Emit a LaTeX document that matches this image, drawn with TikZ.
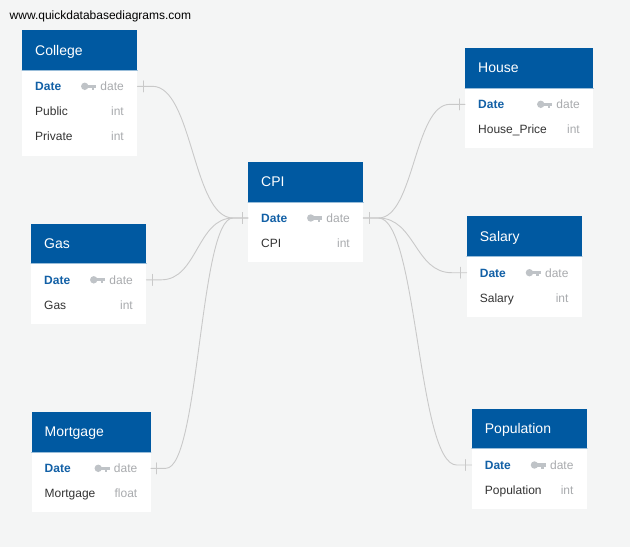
\documentclass[tikz,border=0pt]{standalone}
\usepackage{fontspec}
\setmainfont{Liberation Sans}
\usetikzlibrary{calc,decorations.markings}

\definecolor{erdblue}{HTML}{0059A1}
\definecolor{pkblue}{HTML}{1260A6}
\definecolor{typegray}{HTML}{A9ABAE}
\definecolor{keygray}{HTML}{BFC3C7}
\definecolor{fieldtext}{HTML}{333333}
\definecolor{linegray}{HTML}{C9C9C9}
\definecolor{canvas}{HTML}{F4F5F5}

\tikzset{
  keyicon/.pic={
    \fill[keygray] (-11.5,0) circle (3.7);
    \fill[keygray] (-9,-1.6) rectangle (0,1.6);
    \fill[keygray] (-4.6,1) rectangle (-2.4,3.6);
  }
}

% right edge of one table -> left edge of the other
\newcommand\erdlink[2]{%
  \path (#1) ++(15,0) coordinate (lk-a);
  \path (#2) ++(-15,0) coordinate (lk-b);
  \coordinate (lk-m) at ($(lk-a)!0.5!(lk-b)$);
  \draw[rel] (#1) -- (lk-a) .. controls (lk-m |- lk-a) and (lk-m |- lk-b) .. (lk-b) -- (#2);
}

\begin{document}
\begin{tikzpicture}[x=1pt,y=-1pt,line cap=round,line join=round,
    hdr/.style={rectangle,fill=erdblue,text=white,anchor=north west,minimum height=40pt,
      inner xsep=13pt,inner ysep=0pt,text height=10pt,text depth=0pt,align=left,
      font=\fontsize{14}{16}\selectfont},
    tbody/.style={rectangle,fill=white,anchor=north west,inner sep=0pt},
    hdrline/.style={draw=erdblue!40,line width=0.8pt},
    pkname/.style={anchor=west,inner sep=0pt,text height=8.6pt,text depth=0pt,text=pkblue,
      font=\fontsize{12}{14}\selectfont\bfseries},
    fname/.style={anchor=west,inner sep=0pt,text height=8.6pt,text depth=0pt,text=fieldtext,
      font=\fontsize{12}{14}\selectfont},
    ftype/.style={anchor=east,inner sep=0pt,text height=8.6pt,text depth=0pt,text=typegray,
      font=\fontsize{12}{14}\selectfont},
    rel/.style={draw=linegray,line width=0.9pt,
      postaction={decorate,decoration={markings,
        mark=at position 6pt with {\draw[linegray,line width=0.9pt] (0,-5.5) -- (0,5.5);},
        mark=at position -6pt with {\draw[linegray,line width=0.9pt] (0,-5.5) -- (0,5.5);}}}}]
  \useasboundingbox (0,0) rectangle (630,547);
  \fill[canvas] (0,0) rectangle (630,547);

  \node[anchor=west,inner sep=0pt,text=black,font=\fontsize{12}{14}\selectfont] (site) at (9.5,16) {www.quickdatabasediagrams.com};

  % College
  \node[hdr,text width=89pt] (college) at (22,30) {College};
  \node[tbody,minimum width=115pt,minimum height=85pt] (college-body) at (college.south west) {};
  \draw[hdrline] (college.south west) -- (college.south east);
  \node[pkname] (college-date) at (35,86.3) {Date};
  \node[ftype] (college-date-type) at (124,86.3) {date};
  \pic at ([xshift=-4pt]college-date-type.west) {keyicon};
  \node[fname] (college-public) at (35,111.3) {Public};
  \node[ftype] (college-public-type) at (124,111.3) {int};
  \node[fname] (college-private) at (35,136.3) {Private};
  \node[ftype] (college-private-type) at (124,136.3) {int};

  % CPI
  \node[hdr,text width=89pt] (cpi) at (248,161.5) {CPI};
  \node[tbody,minimum width=115pt,minimum height=60pt] (cpi-body) at (cpi.south west) {};
  \draw[hdrline] (cpi.south west) -- (cpi.south east);
  \node[pkname] (cpi-date) at (261,218) {Date};
  \node[ftype] (cpi-date-type) at (350,218) {date};
  \pic at ([xshift=-4pt]cpi-date-type.west) {keyicon};
  \node[fname] (cpi-cpi) at (261,243) {CPI};
  \node[ftype] (cpi-cpi-type) at (350,243) {int};

  % Gas
  \node[hdr,text width=89pt] (gas) at (31,223.3) {Gas};
  \node[tbody,minimum width=115pt,minimum height=60pt] (gas-body) at (gas.south west) {};
  \draw[hdrline] (gas.south west) -- (gas.south east);
  \node[pkname] (gas-date) at (44,279.8) {Date};
  \node[ftype] (gas-date-type) at (133,279.8) {date};
  \pic at ([xshift=-4pt]gas-date-type.west) {keyicon};
  \node[fname] (gas-gas) at (44,304.8) {Gas};
  \node[ftype] (gas-gas-type) at (133,304.8) {int};

  % Mortgage
  \node[hdr,text width=93pt] (mortgage) at (31.5,411.7) {Mortgage};
  \node[tbody,minimum width=119pt,minimum height=60pt] (mortgage-body) at (mortgage.south west) {};
  \draw[hdrline] (mortgage.south west) -- (mortgage.south east);
  \node[pkname] (mortgage-date) at (44.5,468.3) {Date};
  \node[ftype] (mortgage-date-type) at (137.5,468.3) {date};
  \pic at ([xshift=-4pt]mortgage-date-type.west) {keyicon};
  \node[fname] (mortgage-mortgage) at (44.5,493.3) {Mortgage};
  \node[ftype] (mortgage-mortgage-type) at (137.5,493.3) {float};

  % House
  \node[hdr,text width=102pt] (house) at (465,47.5) {House};
  \node[tbody,minimum width=128pt,minimum height=60pt] (house-body) at (house.south west) {};
  \draw[hdrline] (house.south west) -- (house.south east);
  \node[pkname] (house-date) at (478,104.3) {Date};
  \node[ftype] (house-date-type) at (580,104.3) {date};
  \pic at ([xshift=-4pt]house-date-type.west) {keyicon};
  \node[fname] (house-price) at (478,129.3) {House\_Price};
  \node[ftype] (house-price-type) at (580,129.3) {int};

  % Salary
  \node[hdr,text width=89pt] (salary) at (466.7,216) {Salary};
  \node[tbody,minimum width=115pt,minimum height=60pt] (salary-body) at (salary.south west) {};
  \draw[hdrline] (salary.south west) -- (salary.south east);
  \node[pkname] (salary-date) at (479.7,272.7) {Date};
  \node[ftype] (salary-date-type) at (568.7,272.7) {date};
  \pic at ([xshift=-4pt]salary-date-type.west) {keyicon};
  \node[fname] (salary-salary) at (479.7,297.7) {Salary};
  \node[ftype] (salary-salary-type) at (568.7,297.7) {int};

  % Population
  \node[hdr,text width=89pt] (population) at (471.7,408.3) {Population};
  \node[tbody,minimum width=115pt,minimum height=60pt] (population-body) at (population.south west) {};
  \draw[hdrline] (population.south west) -- (population.south east);
  \node[pkname] (population-date) at (484.7,465) {Date};
  \node[ftype] (population-date-type) at (573.7,465) {date};
  \pic at ([xshift=-4pt]population-date-type.west) {keyicon};
  \node[fname] (population-population) at (484.7,490) {Population};
  \node[ftype] (population-population-type) at (573.7,490) {int};

  % connector ends
  \coordinate (college-r) at (college-body.east |- college-date);
  \coordinate (gas-r) at (gas-body.east |- gas-date);
  \coordinate (mortgage-r) at (mortgage-body.east |- mortgage-date);
  \coordinate (cpi-l) at (cpi-body.west |- cpi-date);
  \coordinate (cpi-r) at (cpi-body.east |- cpi-date);
  \coordinate (house-l) at (house-body.west |- house-date);
  \coordinate (salary-l) at (salary-body.west |- salary-date);
  \coordinate (population-l) at (population-body.west |- population-date);

  \erdlink{college-r}{cpi-l}
  \erdlink{gas-r}{cpi-l}
  \erdlink{mortgage-r}{cpi-l}
  \erdlink{cpi-r}{house-l}
  \erdlink{cpi-r}{salary-l}
  \erdlink{cpi-r}{population-l}
\end{tikzpicture}
\end{document}
